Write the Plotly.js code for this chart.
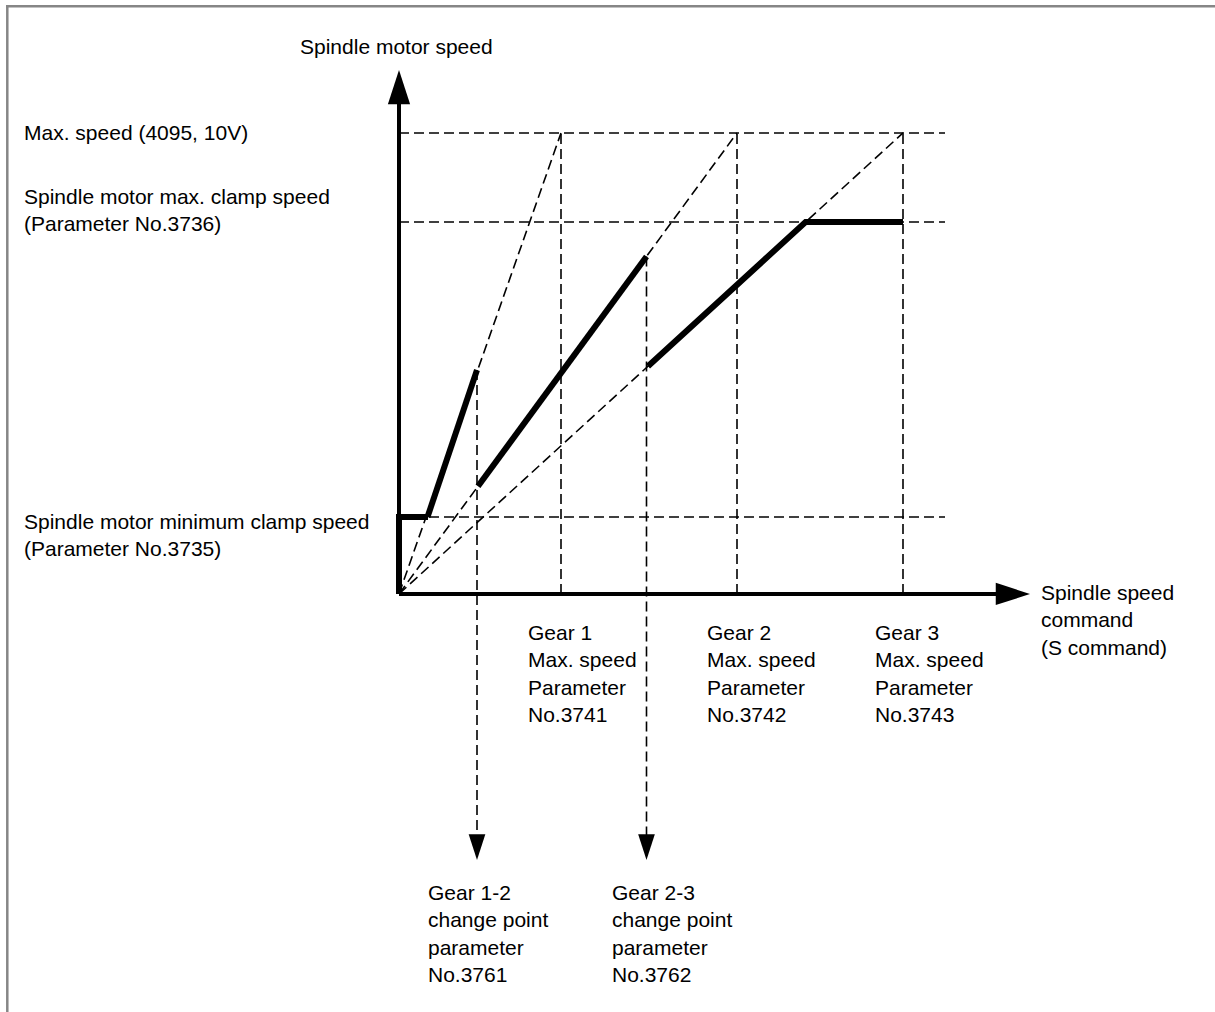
<!DOCTYPE html>
<html>
<head>
<meta charset="utf-8">
<script src="https://cdn.plot.ly/plotly-3.0.1.min.js"></script>
<style>
  html, body { margin: 0; padding: 0; background: #fff; }
  #chart { width: 1215px; height: 1012px; }
</style>
</head>
<body>
<div id="chart"></div>
<script>
// Werte in Diagramm-Einheiten: x = S-Befehl, y = Motordrehzahl (4095 = 10V)
const speedMax = 4095;
const clampMax = 3304;   // Parameter 3736
const clampMin = 684;    // Parameter 3735
const gearMax = [1620, 3380, 5040];     // Parameter 3741/3742/3743
const changePoint = [780, 2475];        // Parameter 3761/3762
const changeTop = [1990, 2998];         // oberes Ende der Umschaltlinie
const guideEnd = 5460;                  // Ende der gestrichelten Waagerechten
const axisTipX = 6310;
const axisTipY = 4655;
const arrowTipY = -2363;

// dicke Kennlinie, abschnittsweise
const stepX = [0, 0, 290];
const stepY = [0, 684, 684];
const gear1X = [285, 780];
const gear1Y = [684, 1990];
const gear2X = [790, 2475];
const gear2Y = [957, 2998];
const gear3X = [2490, 4066, 5040];
const gear3Y = [2023, 3304, 3304];

const gearLabels = [
  "Gear 1<br>Max. speed<br>Parameter<br>No.3741",
  "Gear 2<br>Max. speed<br>Parameter<br>No.3742",
  "Gear 3<br>Max. speed<br>Parameter<br>No.3743",
];
const gearLabelX = [1270, 3060, 4740];
const changeLabels = [
  "Gear 1-2<br>change point<br>parameter<br>No.3761",
  "Gear 2-3<br>change point<br>parameter<br>No.3762",
];
const changeLabelX = [270, 2110];

// Achsbereiche so gewählt, dass der Ursprung bei (399, 594) px liegt
const X_RANGE = [-3990, 8160];
const Y_RANGE = [-3713, 5276];

const FONT = { family: "Liberation Sans, Arial, sans-serif", size: 21, color: "black" };
const DASH = "10px,5px";

const dashed = (x, y) => ({
  type: "scatter",
  mode: "lines",
  x: x,
  y: y,
  line: { width: 1.6, color: "black", dash: DASH },
  hoverinfo: "skip",
});
const solid = (x, y, w) => ({
  type: "scatter",
  mode: "lines",
  x: x,
  y: y,
  line: { width: w, color: "black" },
  hoverinfo: "skip",
});
const head = (x, y, angle, size) => ({
  type: "scatter",
  mode: "markers",
  x: [x],
  y: [y],
  marker: { symbol: "arrow", size: size, angle: angle, color: "black", line: { width: 0 } },
  hoverinfo: "skip",
});

const traces = [];

// gestrichelte Hilfslinien
[speedMax, clampMax, clampMin].forEach((lvl) => traces.push(dashed([0, guideEnd], [lvl, lvl])));
gearMax.forEach((g) => {
  traces.push(dashed([g, g], [0, speedMax]));
  traces.push(dashed([0, g], [0, speedMax]));
});
changePoint.forEach((c, i) => {
  traces.push(dashed([c, c], [changeTop[i], arrowTipY + 150]));
  traces.push(head(c, arrowTipY, 180, 27));
});

// Achsen mit Pfeilen
traces.push(solid([0, 0], [0, axisTipY - 200], 4));
traces.push(head(0, axisTipY, 0, 36));
traces.push(solid([0, axisTipX - 200], [0, 0], 4));
traces.push(head(axisTipX, 0, 90, 36));

// Kennlinie
traces.push(solid(stepX, stepY, 6));
traces.push(solid(gear1X, gear1Y, 6));
traces.push(solid(gear2X, gear2Y, 6));
traces.push(solid(gear3X, gear3Y, 6));

const ann = (x, y, text, yanchor) => ({
  x: x,
  y: y,
  xref: "x",
  yref: "y",
  text: text,
  showarrow: false,
  xanchor: "left",
  yanchor: yanchor || "middle",
  align: "left",
  font: FONT,
});

const annotations = [
  ann(-1010, 4859, "Spindle motor speed"),
  ann(-3770, speedMax, "Max. speed (4095, 10V)"),
  ann(-3770, 3411, "Spindle motor max. clamp speed<br>(Parameter No.3736)"),
  ann(-3770, 528, "Spindle motor minimum clamp speed<br>(Parameter No.3735)"),
  ann(6400, -231, "Spindle speed<br>command<br>(S command)"),
];
gearLabels.forEach((t, i) => annotations.push(ann(gearLabelX[i], -710, t)));
changeLabels.forEach((t, i) => annotations.push(ann(changeLabelX[i], -3020, t)));

// grauer Rahmen links und oben
const shapes = [
  { type: "line", xref: "paper", yref: "paper", x0: 7.3 / 1215, x1: 7.3 / 1215, y0: 0, y1: 1 - 6.3 / 1012,
    line: { color: "#868686", width: 2.5 } },
  { type: "line", xref: "paper", yref: "paper", x0: 6 / 1215, x1: 1, y0: 1 - 6.3 / 1012, y1: 1 - 6.3 / 1012,
    line: { color: "#868686", width: 2.5 } },
];

const axisOff = (range) => ({
  range: range,
  visible: false,
  showgrid: false,
  zeroline: false,
  fixedrange: true,
});

Plotly.newPlot("chart", traces, {
  width: 1215,
  height: 1012,
  margin: { l: 0, r: 0, t: 0, b: 0 },
  paper_bgcolor: "white",
  plot_bgcolor: "white",
  showlegend: false,
  hovermode: false,
  xaxis: axisOff(X_RANGE),
  yaxis: axisOff(Y_RANGE),
  annotations: annotations,
  shapes: shapes,
}, { staticPlot: true, displayModeBar: false });
</script>
</body>
</html>
